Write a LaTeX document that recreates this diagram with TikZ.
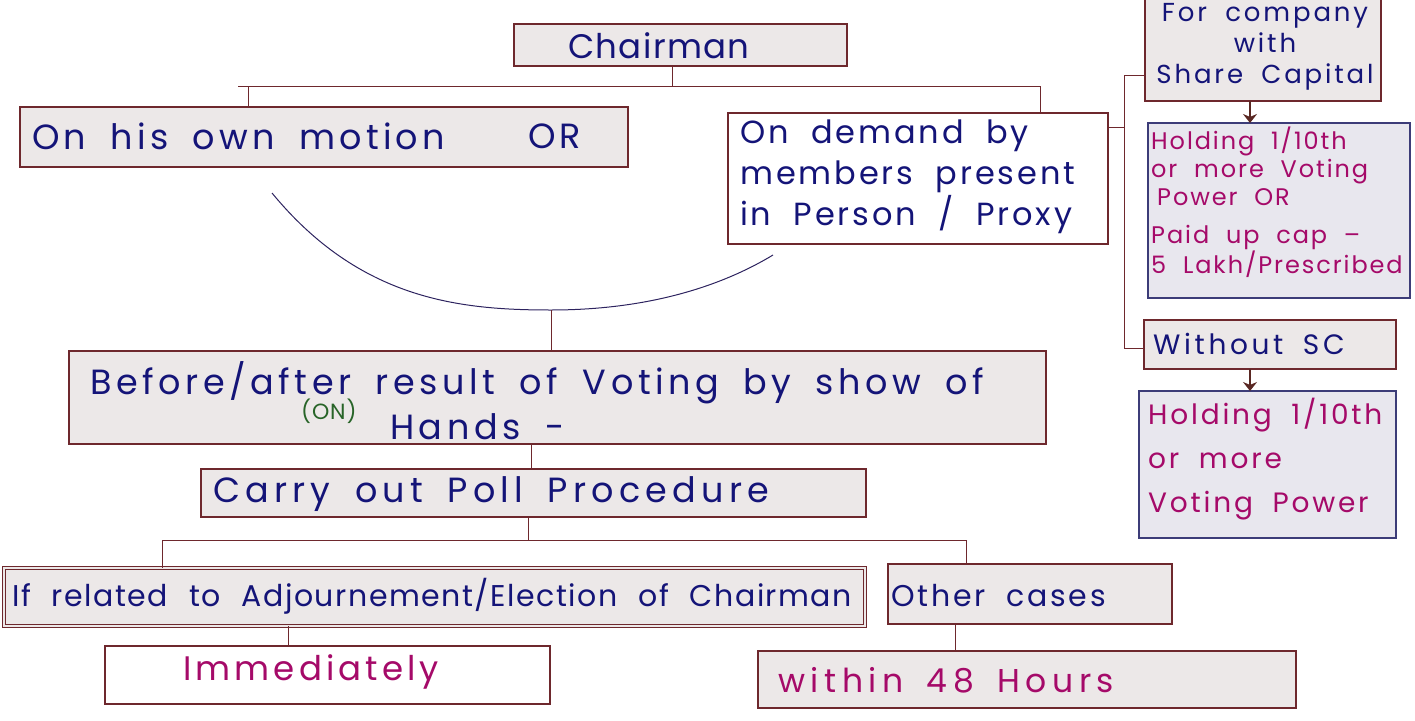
\documentclass[tikz,border=0pt]{standalone}
\usepackage{fontspec}
\setmainfont{Poppins}
\usetikzlibrary{arrows.meta}
\definecolor{ink}{RGB}{20,20,120}
\definecolor{mag}{RGB}{165,10,105}
\definecolor{grn}{RGB}{40,100,40}
\definecolor{edgec}{RGB}{110,40,45}
\definecolor{navyedge}{RGB}{60,60,120}
\definecolor{boxfill}{RGB}{236,232,232}
\definecolor{pbfill}{RGB}{232,231,238}
\definecolor{arcc}{RGB}{45,35,95}
\definecolor{arrowc}{RGB}{90,40,35}
\newcommand{\hfs}[3]{\fontsize{#1}{#3}\selectfont\addfontfeature{LetterSpace=#2}\spaceskip=0.7em plus 0.1em}
\begin{document}
\begin{tikzpicture}[x=1pt,y=-1pt,
  box/.style={draw=edgec, line width=1.2pt, fill=boxfill, inner sep=0pt, outer sep=0pt},
  wbox/.style={box, fill=white},
  pbox/.style={draw=navyedge, line width=1.2pt, fill=pbfill, inner sep=0pt, outer sep=0pt},
  conn/.style={draw=edgec, line width=1pt},
  darr/.style={draw=arrowc, line width=2.4pt, -{Stealth[length=9pt,width=14pt]}},
  hand/.style={text=ink, inner sep=0pt, anchor=west, align=left},
  handm/.style={hand, text=mag},
]
\clip (0,0) rectangle (1415,720);
\useasboundingbox (0,0) rectangle (1415,720);

% boxes
\node[box, minimum width=333pt, minimum height=42pt] (chair) at (680.5,45) {};
\node[box, minimum width=608pt, minimum height=60pt] (motion) at (324,137) {};
\node[wbox, minimum width=380pt, minimum height=131pt] (demand) at (918,178.5) {};
\node[box, minimum width=236pt, minimum height=111pt] (company) at (1263,45.5) {};
\node[pbox, minimum width=262pt, minimum height=175pt] (hold1) at (1279,210.5) {};
\node[box, minimum width=252pt, minimum height=49pt] (without) at (1270,344.5) {};
\node[pbox, minimum width=257pt, minimum height=147pt] (hold2) at (1267.5,464.5) {};
\node[box, minimum width=977pt, minimum height=93pt] (before) at (557.5,397.5) {};
\node[box, minimum width=665pt, minimum height=48pt] (carry) at (533.5,493) {};
\node[box, double=boxfill, double distance=2pt, line width=1pt, minimum width=861pt, minimum height=58pt] (related) at (434.5,597) {};
\node[box, minimum width=284pt, minimum height=60pt] (other) at (1030,594) {};
\node[wbox, minimum width=445pt, minimum height=58pt] (immed) at (327.5,675) {};
\node[box, minimum width=538pt, minimum height=57pt] (within) at (1027,679.5) {};

% texts
\node[hand, font={\hfs{34}{4}{34}}] (tchair) at (568,46) {Chairman};
\node[hand, font={\hfs{35}{12}{35}}] (tmotion) at (32,136) {On his own motion};
\node[hand, font={\hfs{35}{12}{35}}] (tor) at (528,136) {OR};
\node[hand, font={\hfs{32}{9}{41}}, anchor=north west] (tdemand) at (740,120) {On demand by\\members present\\in Person / Proxy};
\node[text=ink, inner sep=0pt, align=center, font={\hfs{26}{11}{31}}, anchor=north] (tcompany) at (1265,3) {For company\\with\\Share Capital};
\node[handm, font={\hfs{24}{8}{28}}, anchor=north west] (thold1) at (1151,127) {Holding 1/10th\\or more Voting\\\hspace{6pt}Power OR\\[10pt]Paid up cap –\\5 Lakh/Prescribed};
\node[hand, font={\hfs{28}{13}{28}}] (twithout) at (1153,344) {Without SC};
\node[handm, font={\hfs{28}{10}{44}}, anchor=north west] (thold2) at (1148,398) {Holding 1/10th\\or more\\Voting Power};
\node[hand, font={\hfs{35}{13}{35}}] (tbefore) at (90,383) {Before/after result of Voting by show of};
\node[hand, font={\hfs{22}{4}{22}}, text=grn] (ton) at (301,411) {(ON)};
\node[hand, font={\hfs{35}{13}{35}}] (thands) at (390,427) {Hands -};
\node[hand, font={\hfs{35}{15}{35}}] (tcarry) at (213,494) {Carry out Poll Procedure};
\node[hand, font={\hfs{30}{5}{30}}] (trelated) at (12,596) {If related to Adjournement/Election of Chairman};
\node[hand, font={\hfs{30}{9}{30}}] (tother) at (891,596) {Other cases};
\node[handm, font={\hfs{34}{12}{34}}] (timmed) at (183,672) {Immediately};
\node[handm, font={\hfs{33}{17}{33}}] (twithin) at (778,680) {within 48 Hours};

% connectors: chairman tree
\coordinate (c1) at (672,86);
\coordinate (busL) at (238,86);
\coordinate (busR) at (1040,86);
\coordinate (t1) at (248,86);
\draw[conn] (chair.south -| c1) -- (c1);
\draw[conn] (busL) -- (busR);
\draw[conn] (t1) -- (t1 |- motion.north);
\draw[conn] (busR) -- (busR |- demand.north);

% arc joining both options
\coordinate (arcL) at (272,193);
\coordinate (arcB) at (551,310);
\coordinate (arcR) at (773,255);
\draw[draw=arcc, line width=1pt] (arcL) .. controls (360,300) and (460,310) .. (arcB) .. controls (640,310) and (715,290) .. (arcR);
\draw[conn] (arcB) -- (arcB |- before.north);

% before -> carry
\coordinate (c2) at (531,444);
\draw[conn] (before.south -| c2) -- (carry.north -| c2);

% carry -> two cases
\coordinate (c3) at (528,540);
\coordinate (bus2L) at (162,540);
\coordinate (bus2R) at (966,540);
\draw[conn] (carry.south -| c3) -- (c3);
\draw[conn] (bus2L) -- (bus2R);
\draw[conn] (bus2L) -- (bus2L |- related.north);
\draw[conn] (bus2R) -- (bus2R |- other.north);

% cases -> timing
\coordinate (c4) at (288,630);
\draw[conn] (related.south -| c4) -- (immed.north -| c4);
\coordinate (c5) at (955,630);
\draw[conn] (other.south -| c5) -- (within.north -| c5);

% right bracket
\coordinate (bx) at (1124,127);
\coordinate (bTop) at (1124,75);
\coordinate (bBot) at (1124,348);
\draw[conn] (demand.east |- bx) -- (bx);
\draw[conn] (bTop) -- (bBot);
\draw[conn] (bTop) -- (bTop -| company.west);
\draw[conn] (bBot) -- (bBot -| without.west);

% arrows
\coordinate (a1) at (1250,100);
\draw[darr] (company.south -| a1) -- (hold1.north -| a1);
\draw[darr] (without.south -| a1) -- (hold2.north -| a1);
\end{tikzpicture}
\end{document}
